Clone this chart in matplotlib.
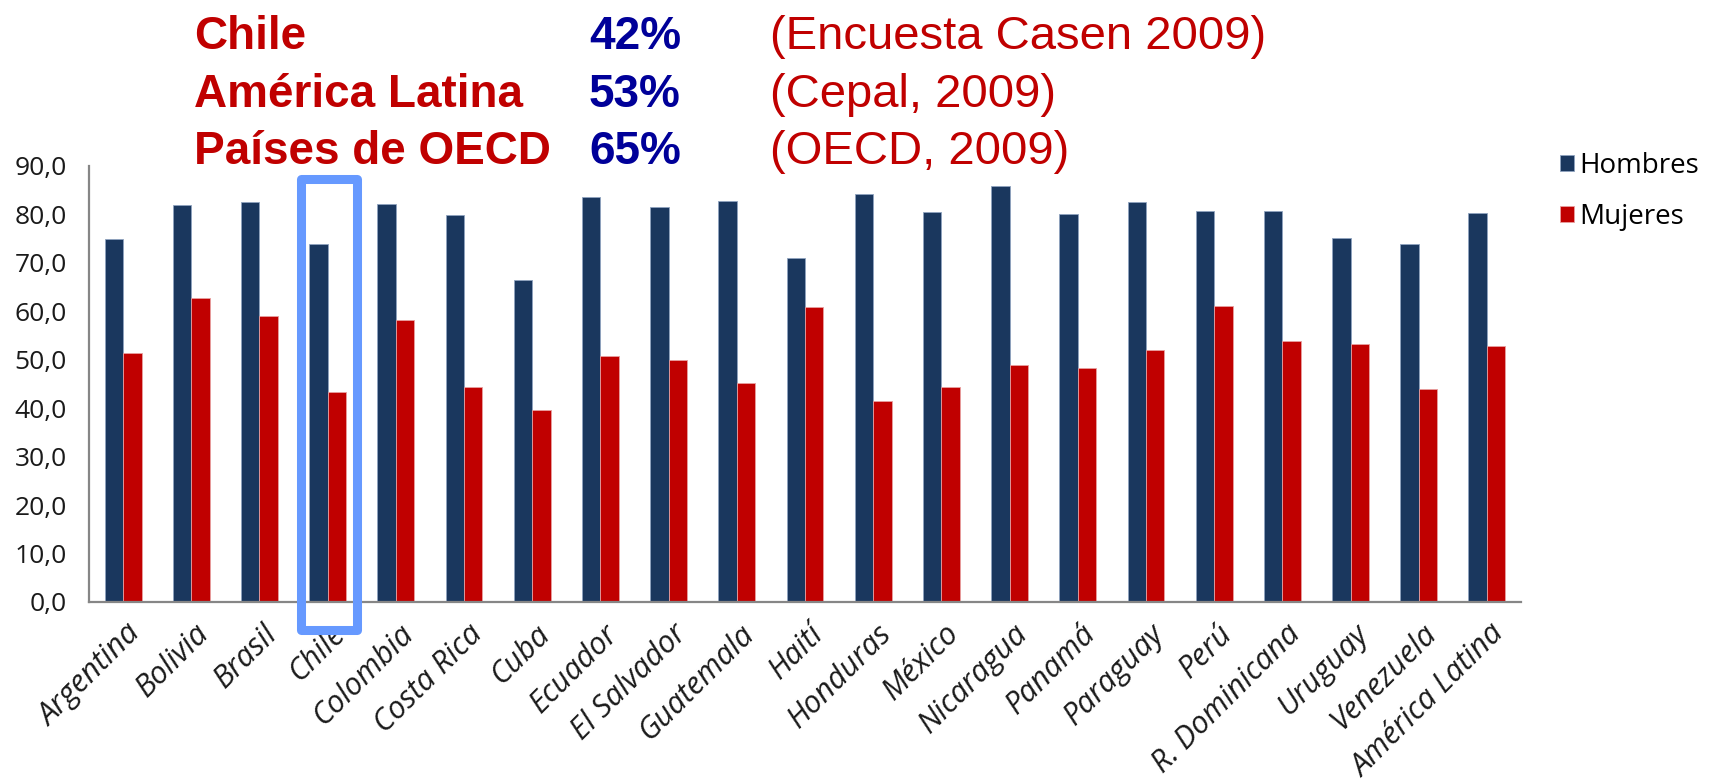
import numpy as np
import matplotlib
matplotlib.use("Agg")
import matplotlib.pyplot as plt
from matplotlib.patches import Rectangle
from matplotlib.transforms import ScaledTranslation

# ---- data ----
categories = ["Argentina", "Bolivia", "Brasil", "Chile", "Colombia", "Costa Rica",
              "Cuba", "Ecuador", "El Salvador", "Guatemala", "Haití", "Honduras",
              "México", "Nicaragua", "Panamá", "Paraguay", "Perú", "R. Dominicana",
              "Uruguay", "Venezuela", "América Latina"]
hombres = [74.9, 81.9, 82.5, 74.0, 82.2, 79.9, 66.4, 83.5, 81.5, 82.7, 71.0,
           84.3, 80.6, 85.9, 80.0, 82.5, 80.8, 80.8, 75.2, 74.0, 80.2]
mujeres = [51.5, 62.8, 59.0, 43.4, 58.2, 44.4, 39.6, 50.7, 49.9, 45.2, 60.8,
           41.5, 44.3, 49.0, 48.2, 52.1, 61.0, 53.8, 53.2, 44.0, 52.9]
series_names = ["Hombres", "Mujeres"]
yticks = [0, 10, 20, 30, 40, 50, 60, 70, 80, 90]
ytick_labels = ["0,0", "10,0", "20,0", "30,0", "40,0", "50,0", "60,0", "70,0", "80,0", "90,0"]

header_names = ["Chile", "América Latina", "Países de OECD"]
header_pcts = ["42%", "53%", "65%"]
header_sources = ["(Encuesta Casen 2009)", "(Cepal, 2009)", "(OECD, 2009)"]
highlight = "Chile"

# ---- style ----
NAVY = "#1A375E"
RED = "#C00000"
TXT_RED = "#C00000"
TXT_BLUE = "#000099"
BOX = "#6699FF"
FONT = "Open Sans"

W, H = 1710, 782
fig = plt.figure(figsize=(W / 100, H / 100), dpi=100)
ax = fig.add_axes([89 / W, 1 - 602 / H, (1521 - 89) / W, (602 - 166) / H])

x = np.arange(len(categories))
bw = 0.27
b1 = ax.bar(x - bw / 2, hombres, bw, color=NAVY, edgecolor="#8FA3BF", linewidth=0.6,
            label=series_names[0], zorder=2)
b2 = ax.bar(x + bw / 2, mujeres, bw, color=RED, edgecolor="#E8A0A0", linewidth=0.6,
            label=series_names[1], zorder=2)

ax.set_xlim(-0.5, len(categories) - 0.5)
ax.set_ylim(0, 90)
ax.set_yticks(yticks)
ax.set_yticklabels(ytick_labels, fontsize=19, family=FONT, color="#1a1a1a")
ax.set_xticks(x)
ax.set_xticklabels(categories, fontsize=22, family=FONT, style="italic",
                   rotation=45, ha="right", va="top", rotation_mode="anchor",
                   color="#1a1a1a")
ax.tick_params(axis="both", length=0)
ax.tick_params(axis="y", pad=16)
ax.tick_params(axis="x", pad=12)
offset = ScaledTranslation(3 / 100, 0, fig.dpi_scale_trans)
for lab in ax.get_xticklabels():
    lab.set_transform(lab.get_transform() + offset)

for s in ["top", "right"]:
    ax.spines[s].set_visible(False)
for s in ["left", "bottom"]:
    ax.spines[s].set_color("#868686")
    ax.spines[s].set_linewidth(1.6)

# highlight box around Chile
ci = categories.index(highlight)
rect = Rectangle((ci - 0.393, -5.7), 0.828, 93.1, fill=False, edgecolor=BOX,
                 linewidth=6.5, joinstyle="round", clip_on=False, zorder=5)
ax.add_patch(rect)

# legend
fig.legend(handles=[b1, b2], labels=series_names, loc="upper left",
           bbox_to_anchor=(1560 / W, 1 - 152 / H), frameon=False,
           prop={"family": FONT, "size": 20}, handlelength=0.5, handleheight=0.5,
           handletextpad=0.2, labelspacing=0.83, borderpad=0, borderaxespad=0)

# header text
baselines = [49, 107, 164]
for name, pct, src, yb in zip(header_names, header_pcts, header_sources, baselines):
    yy = 1 - yb / H
    fig.text(194 / W, yy, name, color=TXT_RED, fontsize=33, fontweight="bold",
             family="Liberation Sans", va="baseline", ha="left")
    fig.text(589 / W, yy, pct, color=TXT_BLUE, fontsize=33, fontweight="bold",
             family="Liberation Sans", va="baseline", ha="left")
    fig.text(770 / W, yy, src, color=TXT_RED, fontsize=34,
             family="Liberation Sans", va="baseline", ha="left")

fig.savefig("out.png", dpi=100, facecolor="white")
